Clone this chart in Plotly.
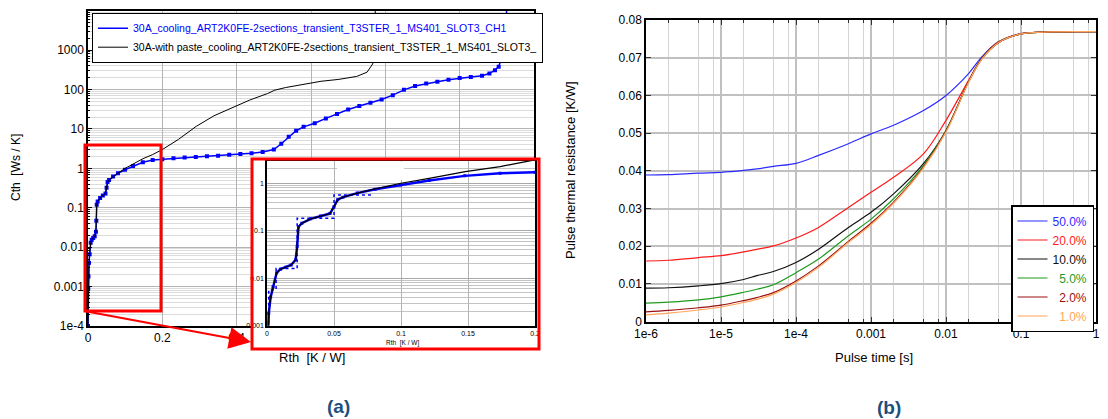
import plotly.graph_objects as go

# ---------------- data: panel (a) structure functions ----------------
blue_rth = [0.0, 0.0006, 0.0013, 0.0027, 0.0045, 0.0072, 0.010, 0.014, 0.018, 0.0214,
            0.0225, 0.0235, 0.026, 0.0326, 0.040, 0.047, 0.050, 0.0527, 0.0567, 0.0674,
            0.0807, 0.0995, 0.121, 0.1476, 0.174, 0.2, 0.23, 0.26, 0.29, 0.32, 0.35,
            0.38, 0.41, 0.44, 0.47, 0.50, 0.52, 0.54, 0.56, 0.58, 0.61, 0.64, 0.67,
            0.70, 0.73, 0.76, 0.79, 0.82, 0.85, 0.88, 0.91, 0.94, 0.97, 1.00, 1.03,
            1.06, 1.08, 1.095, 1.105, 1.112, 1.117, 1.121, 1.124, 1.127]
blue_cth = [0.0001, 0.0009, 0.0018, 0.004, 0.0066, 0.013, 0.0155, 0.017, 0.019, 0.0245,
            0.047, 0.12, 0.144, 0.178, 0.205, 0.23, 0.32, 0.45, 0.51, 0.62,
            0.75, 0.92, 1.14, 1.43, 1.62, 1.7, 1.8, 1.88, 1.95, 2.02, 2.1,
            2.2, 2.3, 2.42, 2.6, 3.0, 4.2, 6.3, 9.0, 11.3, 14, 18.5, 24,
            31, 38, 46, 56, 72, 98, 123, 142, 158, 176, 195, 207,
            225, 255, 310, 380, 600, 1000, 2000, 4500, 12000]

black_rth = [0.0, 0.0006, 0.0013, 0.0027, 0.0045, 0.0072, 0.010, 0.014, 0.018, 0.0214,
             0.0225, 0.0235, 0.026, 0.0326, 0.040, 0.047, 0.050, 0.0527, 0.0567, 0.0674,
             0.0807, 0.10, 0.121, 0.148, 0.174, 0.2, 0.243, 0.291, 0.339, 0.387, 0.435,
             0.483, 0.502, 0.531, 0.579, 0.627, 0.675, 0.723, 0.751, 0.766, 0.771, 0.773]
black_cth = [0.0001, 0.0009, 0.0018, 0.004, 0.0066, 0.013, 0.0155, 0.017, 0.019, 0.0245,
             0.047, 0.12, 0.144, 0.178, 0.205, 0.23, 0.32, 0.45, 0.51, 0.62,
             0.76, 1.0, 1.27, 1.76, 2.24, 3.0, 5.4, 11.6, 21.6, 33.5, 54,
             79, 96, 112, 136, 162, 181, 215, 276, 447, 1170, 12000]

step_rth = [0.0013, 0.0013, 0.0068, 0.0068, 0.0225, 0.0225, 0.05, 0.05, 0.0788]
step_cth = [0.0011, 0.0057, 0.0057, 0.016, 0.016, 0.183, 0.183, 0.567, 0.567]

name_blue = "30A_cooling_ART2K0FE-2sections_transient_T3STER_1_MS401_SLOT3_CH1"
name_black = "30A-with paste_cooling_ART2K0FE-2sections_transient_T3STER_1_MS401_SLOT3_"

main_x_ticks = [0, 0.2, 0.4, 0.6, 0.8, 1.0, 1.2]
main_x_text = ["0", "0.2", "0.4", "", "", "", ""]
main_y_ticks = [1e-4, 1e-3, 1e-2, 0.1, 1, 10, 100, 1000, 10000]
main_y_text = ["1e-4", "0.001", "0.01", "0.1", "1", "10", "100", "1000", "10000"]
inset_x_ticks = [0, 0.05, 0.1, 0.15, 0.2]
inset_x_text = ["0", "0.05", "0.1", "0.15", "0.2"]
inset_y_ticks = [0.001, 0.01, 0.1, 1]
inset_y_text = ["0.001", "0.01", "0.1", "1"]

# ---------------- data: panel (b) pulse thermal resistance ----------------
pulse_t = [1e-6, 2e-6, 5e-6, 1e-5, 2e-5, 3e-5, 5e-5, 1e-4, 2e-4, 5e-4, 1e-3, 2e-3,
           5e-3, 1e-2, 2e-2, 3e-2, 5e-2, 0.1, 0.2, 1.0]
duty_labels = ["50.0%", "20.0%", "10.0%", "\u20075.0%", "\u20072.0%", "\u20071.0%"]
duty_colors = ["#2b2bff", "#ff1a1a", "#111111", "#1f9a1f", "#9b1010", "#ffa65c"]
z50 = [0.0389, 0.0390, 0.0394, 0.0396, 0.0401, 0.0405, 0.0412, 0.0420, 0.0441, 0.0472,
       0.0498, 0.0521, 0.0560, 0.0600, 0.0658, 0.0702, 0.0742, 0.0764, 0.0768, 0.0769]
z20 = [0.0161, 0.0163, 0.0170, 0.0175, 0.0185, 0.0192, 0.0201, 0.0222, 0.0250, 0.0303,
       0.0343, 0.0383, 0.0445, 0.0534, 0.0640, 0.0698, 0.0742, 0.0764, 0.0768, 0.0769]
z10 = [0.0089, 0.0090, 0.0095, 0.0101, 0.0112, 0.0122, 0.0133, 0.0157, 0.0192, 0.0250,
       0.0290, 0.0339, 0.0419, 0.0507, 0.0636, 0.0698, 0.0740, 0.0763, 0.0768, 0.0769]
z05 = [0.0049, 0.0052, 0.0058, 0.0066, 0.0078, 0.0086, 0.0098, 0.0130, 0.0166, 0.0228,
       0.0272, 0.0326, 0.0414, 0.0506, 0.0636, 0.0697, 0.0740, 0.0763, 0.0768, 0.0769]
z02 = [0.0026, 0.0030, 0.0037, 0.0044, 0.0056, 0.0064, 0.0077, 0.0108, 0.0148, 0.0213,
       0.0261, 0.0317, 0.0410, 0.0505, 0.0636, 0.0697, 0.0740, 0.0763, 0.0768, 0.0769]
z01 = [0.0018, 0.0023, 0.0031, 0.0039, 0.0051, 0.0059, 0.0073, 0.0104, 0.0144, 0.0210,
       0.0257, 0.0314, 0.0408, 0.0503, 0.0635, 0.0696, 0.0740, 0.0763, 0.0768, 0.0769]
duty_series = [z50, z20, z10, z05, z02, z01]

b_x_ticks = [1e-6, 1e-5, 1e-4, 1e-3, 1e-2, 0.1, 1]
b_x_text = ["1e-6", "1e-5", "1e-4", "0.001", "0.01", "0.1", "1"]
b_x_minor = [m * 10 ** e for e in range(-6, 0) for m in (2, 5, 8)]
b_y_ticks = [0, 0.01, 0.02, 0.03, 0.04, 0.05, 0.06, 0.07, 0.08]
b_y_text = ["0", "0.01", "0.02", "0.03", "0.04", "0.05", "0.06", "0.07", "0.08"]

# ---------------- figure ----------------
# the page body has an 8px margin, so the figure is 8px smaller and positions
# below are given in window pixels and shifted by that offset
OFF = 8
W, H = 1108 - OFF, 419 - OFF
def fx(p): return (p - OFF) / W
def fy(p): return 1 - (p - OFF) / H

FONT = "Liberation Sans, Arial, sans-serif"
fig = go.Figure()

# panel (a) main  (x/y)
fig.add_trace(go.Scatter(x=blue_rth, y=blue_cth, mode="lines",
                         line=dict(color="#0000ff", width=1.5),
                         name="<span style='color:#0000ff'>" + name_blue + "</span>",
                         xaxis="x", yaxis="y", legend="legend"))
fig.add_trace(go.Scatter(x=blue_rth, y=blue_cth, mode="markers",
                         marker=dict(color="#0000ff", size=4, symbol="square"),
                         showlegend=False, xaxis="x", yaxis="y"))
fig.add_trace(go.Scatter(x=black_rth, y=black_cth, mode="lines",
                         line=dict(color="black", width=1),
                         name=name_black, xaxis="x", yaxis="y", legend="legend"))
# white cover under the inset (x2/y2, empty)
fig.add_trace(go.Scatter(x=[None], y=[None], mode="lines", showlegend=False,
                         xaxis="x2", yaxis="y2", hoverinfo="skip"))
# panel (a) inset (x3/y3)
fig.add_trace(go.Scatter(x=step_rth, y=step_cth, mode="lines",
                         line=dict(color="#0000ff", width=1.5, dash="dot"),
                         showlegend=False, xaxis="x3", yaxis="y3"))
fig.add_trace(go.Scatter(x=blue_rth, y=blue_cth, mode="lines+markers",
                         line=dict(color="#0000ff", width=2.5),
                         marker=dict(color="#0000ff", size=3, symbol="square"),
                         showlegend=False, xaxis="x3", yaxis="y3"))
fig.add_trace(go.Scatter(x=black_rth, y=black_cth, mode="lines",
                         line=dict(color="black", width=1.2),
                         showlegend=False, xaxis="x3", yaxis="y3"))
# panel (b) (x4/y4)
for lab, col, ys in zip(duty_labels, duty_colors, duty_series):
    fig.add_trace(go.Scatter(x=pulse_t, y=ys, mode="lines",
                             line=dict(color=col, width=1.2, shape="spline"),
                             name="<span style='color:%s'>%s</span>" % (col, lab),
                             xaxis="x4", yaxis="y4", legend="legend2"))

grid_major = "#b4b4b4"
grid_minor = "#dcdcdc"
tickfont = dict(family=FONT, size=12, color="black")
smallfont = dict(family=FONT, size=7, color="black")

fig.update_layout(
    width=W, height=H, margin=dict(l=0, r=0, t=0, b=0, pad=0, autoexpand=False),
    paper_bgcolor="white", plot_bgcolor="white",
    font=dict(family=FONT, size=12, color="black"),
    xaxis=dict(domain=[fx(88), fx(534)], range=[0, 1.2], tickmode="array",
               tickvals=main_x_ticks, ticktext=main_x_text, tickfont=tickfont,
               showgrid=True, gridcolor=grid_major, gridwidth=1,
               showline=True, linecolor="black", linewidth=1.5, mirror=True,
               ticks="", zeroline=False, anchor="y", automargin=False),
    yaxis=dict(domain=[fy(326), fy(10.7)], type="log", range=[-4, 4], tickmode="array",
               tickvals=main_y_ticks, ticktext=main_y_text, tickfont=tickfont,
               showgrid=True, gridcolor=grid_major, gridwidth=1,
               minor=dict(dtick="D1", showgrid=True, gridcolor=grid_minor, gridwidth=1,
                          ticks="inside", ticklen=2, tickcolor="black"),
               showline=True, linecolor="black", linewidth=1.5, mirror=True,
               ticks="inside", ticklen=4, tickcolor="black", zeroline=False, anchor="x",
               automargin=False),
    xaxis2=dict(domain=[fx(252), fx(539)], range=[0, 1], visible=False, anchor="y2"),
    yaxis2=dict(domain=[fy(349), fy(159)], range=[0, 1], visible=False, anchor="x2"),
    xaxis3=dict(domain=[fx(267), fx(535)], range=[0, 0.2], tickmode="array",
                tickvals=inset_x_ticks, ticktext=inset_x_text, tickfont=smallfont,
                showgrid=True, gridcolor=grid_major, gridwidth=1,
                showline=True, linecolor="black", linewidth=1.5, mirror=True,
                ticks="", zeroline=False, anchor="y3", automargin=False),
    yaxis3=dict(domain=[fy(325.7), fy(160.6)], type="log", range=[-3, 0.477], tickmode="array",
                tickvals=inset_y_ticks, ticktext=inset_y_text, tickfont=smallfont,
                showgrid=True, gridcolor="#a8a8a8", gridwidth=1,
                minor=dict(dtick="D1", showgrid=True, gridcolor="#c4c4c4", gridwidth=1),
                showline=True, linecolor="black", linewidth=1.5, mirror=True,
                ticks="", zeroline=False, anchor="x3", automargin=False),
    xaxis4=dict(domain=[fx(646), fx(1096)], type="log", range=[-6, 0], tickmode="array",
                tickvals=b_x_ticks, ticktext=b_x_text, tickfont=tickfont,
                showgrid=True, gridcolor="#c0c0c0", gridwidth=1.5,
                minor=dict(tickmode="array", tickvals=b_x_minor, showgrid=True,
                           gridcolor="#d4d4d4", gridwidth=1.2, ticks="inside", ticklen=3,
                           tickcolor="#333333"),
                showline=True, linecolor="black", linewidth=1.5, mirror="ticks",
                ticks="inside", ticklen=5, tickcolor="#333333", zeroline=False, anchor="y4",
                automargin=False),
    yaxis4=dict(domain=[fy(321.7), fy(20)], range=[0, 0.08], tickmode="array",
                tickvals=b_y_ticks, ticktext=b_y_text, tickfont=tickfont,
                showgrid=True, gridcolor="#c0c0c0", gridwidth=1.5,
                showline=True, linecolor="black", linewidth=1.5, mirror="ticks",
                ticks="inside", ticklen=5, tickcolor="#333333", zeroline=False, anchor="x4",
                automargin=False),
    legend=dict(x=fx(92), y=fy(12.7), xanchor="left", yanchor="top",
                bgcolor="white", bordercolor="black", borderwidth=1,
                font=dict(family=FONT, size=10.5, color="black"),
                tracegroupgap=0, itemwidth=30),
    legend2=dict(x=fx(1094), y=fy(205), xanchor="right", yanchor="top",
                 bgcolor="white", bordercolor="black", borderwidth=1.5,
                 font=dict(family=FONT, size=12, color="black"),
                 tracegroupgap=0, itemwidth=30),
    showlegend=True,
)

shapes = [
    # white patch at the top of the inset
    dict(type="rect", xref="paper", yref="paper", x0=fx(337), x1=fx(404), y0=fy(180), y1=fy(161.5),
         fillcolor="white", line=dict(width=0), layer="above"),
    # red zoom boxes
    dict(type="rect", xref="paper", yref="paper", x0=fx(85), x1=fx(161), y0=fy(311), y1=fy(145),
         line=dict(color="#ff0000", width=3), layer="above"),
    dict(type="rect", xref="paper", yref="paper", x0=fx(252), x1=fx(539), y0=fy(349), y1=fy(159),
         line=dict(color="#ff0000", width=3), layer="above"),
]
fig.update_layout(shapes=shapes)

def label(px, py, text, size, angle=0, color="black"):
    return dict(x=fx(px), y=fy(py), xref="paper", yref="paper", text=text, showarrow=False,
                xanchor="center", yanchor="middle", textangle=angle,
                font=dict(family=FONT, size=size, color=color))

ann = [
    dict(x=fx(251), y=fy(342), xref="paper", yref="paper", text="", showarrow=True,
         ax=84 - 251, ay=311 - 342, arrowcolor="#ff0000", arrowwidth=2, arrowhead=2, arrowsize=2.2,
         standoff=0),
    label(16, 168, "Cth  [Ws / K]", 12, angle=-90),
    label(312, 357, "Rth  [K / W]", 13),
    label(402, 343, "Rth  [K / W]", 6.5),
    label(571, 170, "Pulse thermal resistance [K/W]", 13, angle=-90),
    label(874, 357, "Pulse time [s]", 13),
    label(338, 406, "<b>(a)</b>", 19, color="#1d4f7c"),
    label(889, 407, "<b>(b)</b>", 19, color="#1d4f7c"),
]
fig.update_layout(annotations=ann)

fig.write_html("out.html", config={"displayModeBar": False})
